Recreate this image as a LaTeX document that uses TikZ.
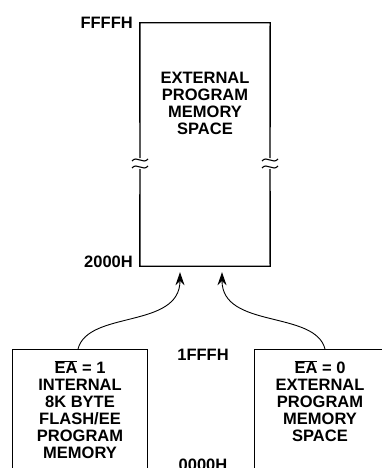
\documentclass[tikz,border=0pt]{standalone}
\usepackage{fontspec}
\setmainfont{Liberation Sans}
\usetikzlibrary{arrows.meta,calc}
\newcommand{\ovl}[1]{$\overline{\hbox{#1}}$}
\begin{document}
\begin{tikzpicture}[x=1pt,y=1pt,
  lbl/.style={font=\bfseries\fontsize{16.5}{17}\selectfont, align=center, inner sep=0pt},
  frame/.style={line width=1.4pt},
  tld/.style={line width=1.1pt},
  arr/.style={line width=0.9pt, -{Stealth[length=13pt,width=9pt]}}]
\useasboundingbox (0,0) rectangle (382,-468);
\clip (0,0) rectangle (382,-468);
% main memory block (outline drawn below, with break marks)
\node[minimum width=130pt, minimum height=243pt, inner sep=0pt] (main) at (205,-144.5) {};
\draw[frame] (140,-158) -- (main.north west) -- (main.north east) -- (270,-158);
\draw[frame] (140,-169) -- (main.south west) -- (main.south east) -- (270,-169);
\foreach \xx in {140,270}{
  \foreach \yy in {-160,-167}{
    \draw[tld] (\xx-8,\yy-1) .. controls (\xx-3,\yy+5) and (\xx+3,\yy-5) .. (\xx+8,\yy+1);
  }
}
\node[lbl] (maintext) at (205,-103.5) {EXTERNAL\\PROGRAM\\MEMORY\\SPACE};
\node[lbl, anchor=east] (ffff) at (133,-23) {FFFFH};
\node[lbl, anchor=east] (k2000) at (133,-262) {2000H};
% lower boxes
\node[frame, draw, minimum width=135pt, minimum height=180pt, inner sep=0pt, anchor=north west] (lbox) at (12,-349) {};
\node[frame, draw, minimum width=150pt, minimum height=180pt, inner sep=0pt, anchor=north west] (rbox) at (254,-349) {};
\node[lbl] (ltext) at (80,-409.5) {\ovl{EA} = 1\\INTERNAL\\8K BYTE\\FLASH/EE\\PROGRAM\\MEMORY};
\node[lbl] (rtext) at (320,-401) {\ovl{EA} = 0\\EXTERNAL\\PROGRAM\\MEMORY\\SPACE};
\node[lbl] (k1fff) at (203,-355) {1FFFH};
\node[lbl] (k0000) at (203,-465) {0000H};
% arrows
\coordinate (ls) at ($(lbox.north west)+(66,0)$);
\coordinate (rs) at ($(rbox.north west)+(71,0)$);
\coordinate (lt) at ($(main.south)+(-25,-6)$);
\coordinate (rt) at ($(main.south)+(17,-6)$);
\draw[arr] (ls) .. controls ($(ls)+(10,39)$) and ($(lt)+(0,-57)$) .. (lt);
\draw[arr] (rs) .. controls ($(rs)+(-10,39)$) and ($(rt)+(0,-57)$) .. (rt);
\end{tikzpicture}
\end{document}
